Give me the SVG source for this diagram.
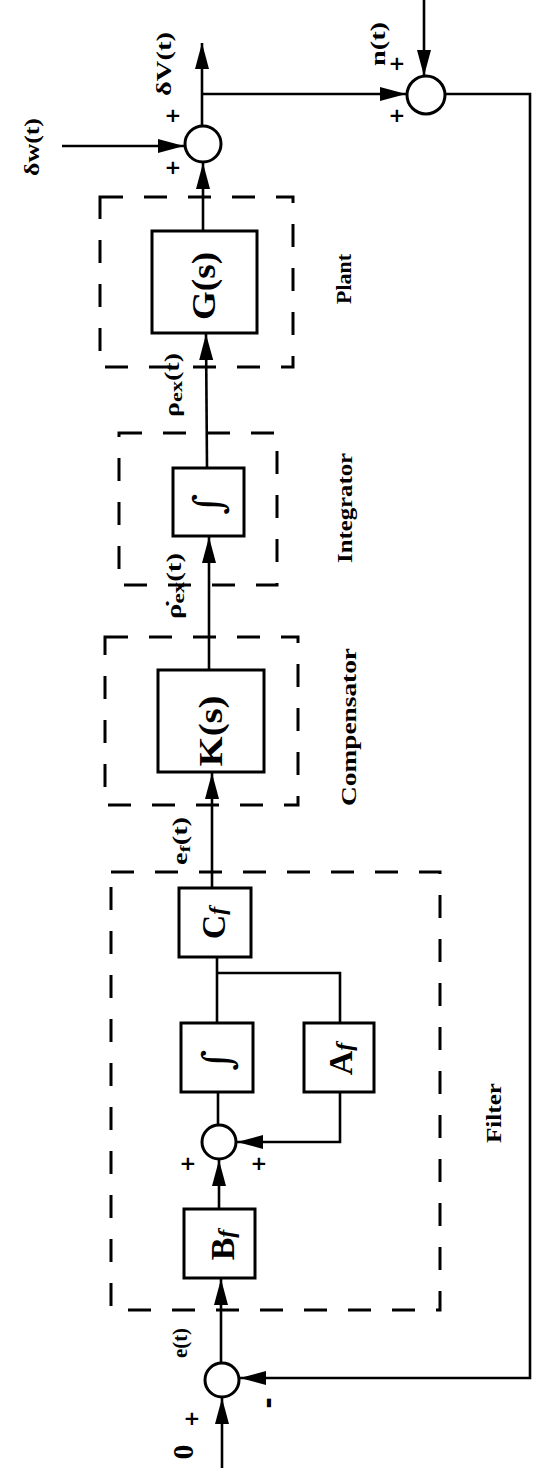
<svg xmlns="http://www.w3.org/2000/svg" width="542" height="1468" viewBox="0 0 542 1468">
<style>
.bg{fill:#fff}
.ln{fill:none;stroke:#000;stroke-width:2.6}
.box{fill:#fff;stroke:#000;stroke-width:3}
.sum{fill:#fff;stroke:#000;stroke-width:3}
.dash{fill:none;stroke:#000;stroke-width:3;stroke-dasharray:23 21}
text{font-family:"Liberation Serif","DejaVu Serif",serif;font-weight:bold;fill:#000}
.sig{font-size:20px}
.grp{font-size:22px}
.blk{font-size:34px}
.pm{font-family:"DejaVu Sans",sans-serif;font-size:20px}
.int{font-family:"DejaVu Serif",serif;font-weight:normal;font-size:40px}
</style>
<defs>
<marker id="ah" markerUnits="userSpaceOnUse" markerWidth="28" markerHeight="16" refX="26" refY="7" orient="auto">
<path d="M0,0 L26,7 L0,14 Z" fill="#000"/>
</marker>
</defs>
<rect class="bg" x="0" y="0" width="542" height="1468"/>

<g id="groups">
<rect id="plant-box" class="dash" x="100" y="197" width="193" height="170"/>
<rect id="integrator-box" class="dash" x="119" y="433" width="158" height="152"/>
<rect id="compensator-box" class="dash" x="105" y="637" width="193" height="168"/>
<rect id="filter-box" class="dash" x="111" y="872" width="329" height="438"/>
</g>

<g id="connectors">
<line class="ln" x1="222" y1="1468" x2="222" y2="1398" marker-end="url(#ah)"/>
<polyline class="ln" points="445,94 530,94 530,1378 240,1378" marker-end="url(#ah)"/>
<line class="ln" x1="221" y1="1363" x2="221" y2="1279" marker-end="url(#ah)"/>
<line class="ln" x1="219" y1="1209" x2="219" y2="1160" marker-end="url(#ah)"/>
<line class="ln" x1="218" y1="1125" x2="218" y2="1092"/>
<line class="ln" x1="217" y1="1023" x2="217" y2="957"/>
<polyline class="ln" points="217,973 340,973 340,1023"/>
<polyline class="ln" points="340,1092 340,1142 237,1142" marker-end="url(#ah)"/>
<line class="ln" x1="212" y1="888" x2="212" y2="773" marker-end="url(#ah)"/>
<line class="ln" x1="209" y1="670" x2="209" y2="537" marker-end="url(#ah)"/>
<line class="ln" x1="207" y1="468" x2="206" y2="334" marker-end="url(#ah)"/>
<line class="ln" x1="203" y1="231" x2="203" y2="163" marker-end="url(#ah)"/>
<line class="ln" x1="62" y1="146" x2="184" y2="146" marker-end="url(#ah)"/>
<line class="ln" x1="202" y1="126" x2="202" y2="43" marker-end="url(#ah)"/>
<line class="ln" x1="202" y1="94" x2="406" y2="94" marker-end="url(#ah)"/>
<line class="ln" x1="424" y1="0" x2="424" y2="76" marker-end="url(#ah)"/>
</g>

<g id="S1"><circle class="sum" cx="203" cy="144" r="18"/></g>
<g id="S2"><circle class="sum" cx="426" cy="95" r="19"/></g>
<g id="S3"><circle class="sum" cx="219" cy="1142" r="17"/></g>
<g id="S4"><circle class="sum" cx="222" cy="1380" r="17"/></g>

<g id="G"><rect class="box" x="152" y="231" width="105" height="102"/>
<text class="blk" transform="translate(215,286) rotate(-90)" text-anchor="middle" textLength="68" lengthAdjust="spacingAndGlyphs">G(s)</text></g>
<g id="INT1"><rect class="box" x="173" y="468" width="71" height="68"/>
<text class="int" transform="translate(222,504) rotate(-90)" text-anchor="middle">∫</text></g>
<g id="K"><rect class="box" x="158" y="670" width="106" height="102"/>
<text class="blk" transform="translate(222,731) rotate(-90)" text-anchor="middle" textLength="71" lengthAdjust="spacingAndGlyphs">K(s)</text></g>
<g id="Cf"><rect class="box" x="179" y="888" width="72" height="69"/>
<text class="blk" transform="translate(225,923) rotate(-90)" text-anchor="middle">C<tspan font-size="24" font-style="italic">f</tspan></text></g>
<g id="INT2"><rect class="box" x="181" y="1023" width="72" height="69"/>
<text class="int" transform="translate(231,1060) rotate(-90)" text-anchor="middle">∫</text></g>
<g id="Af"><rect class="box" x="304" y="1023" width="70" height="69"/>
<text class="blk" transform="translate(352,1059) rotate(-90)" text-anchor="middle">A<tspan font-size="24" font-style="italic">f</tspan></text></g>
<g id="Bf"><rect class="box" x="184" y="1209" width="71" height="69"/>
<text class="blk" transform="translate(234,1245) rotate(-90)" text-anchor="middle">B<tspan font-size="24" font-style="italic">f</tspan></text></g>

<g id="labels">
<text class="grp" transform="translate(351,279) rotate(-90)" text-anchor="middle" textLength="50" lengthAdjust="spacingAndGlyphs">Plant</text>
<text class="grp" transform="translate(352,508) rotate(-90)" text-anchor="middle" textLength="110" lengthAdjust="spacingAndGlyphs">Integrator</text>
<text class="grp" transform="translate(356,727) rotate(-90)" text-anchor="middle" textLength="158" lengthAdjust="spacingAndGlyphs">Compensator</text>
<text class="grp" transform="translate(501,1113) rotate(-90)" text-anchor="middle" textLength="60" lengthAdjust="spacingAndGlyphs">Filter</text>

<text class="sig" transform="translate(171,64) rotate(-90)" text-anchor="middle" textLength="64" lengthAdjust="spacingAndGlyphs">δV(t)</text>
<text class="sig" transform="translate(39,147) rotate(-90)" text-anchor="middle" textLength="58" lengthAdjust="spacingAndGlyphs">δw(t)</text>
<text class="sig" transform="translate(385,44) rotate(-90)" text-anchor="middle" textLength="44" lengthAdjust="spacingAndGlyphs">n(t)</text>
<text class="sig" transform="translate(179,385) rotate(-90)" text-anchor="middle" textLength="64" lengthAdjust="spacingAndGlyphs">ρ<tspan font-size="16" dy="3">ex</tspan><tspan dy="-3">(t)</tspan></text>
<text class="sig" transform="translate(181,586) rotate(-90)" text-anchor="middle" textLength="66" lengthAdjust="spacingAndGlyphs">ρ̇<tspan font-size="16" dy="3">ex</tspan><tspan dy="-3">(t)</tspan></text>
<text class="sig" transform="translate(187,841) rotate(-90)" text-anchor="middle" textLength="48" lengthAdjust="spacingAndGlyphs">e<tspan font-size="15" dy="3">f</tspan><tspan dy="-3">(t)</tspan></text>
<text class="sig" transform="translate(187,1343) rotate(-90)" text-anchor="middle" textLength="30" lengthAdjust="spacingAndGlyphs">e(t)</text>
<text class="sig" transform="translate(193,1452) rotate(-90)" text-anchor="middle" style="font-size:30px">0</text>

<text class="pm" x="173" y="122" text-anchor="middle">+</text>
<text class="pm" x="173" y="174" text-anchor="middle">+</text>
<text class="pm" x="397" y="70" text-anchor="middle">+</text>
<text class="pm" x="397" y="122" text-anchor="middle">+</text>
<text class="pm" x="188" y="1170" text-anchor="middle">+</text>
<text class="pm" x="259" y="1170" text-anchor="middle">+</text>
<text class="pm" x="192" y="1425" text-anchor="middle">+</text>
<text class="pm" transform="translate(277,1403) rotate(-90)" text-anchor="middle" style="font-size:28px">-</text>
</g>
</svg>
